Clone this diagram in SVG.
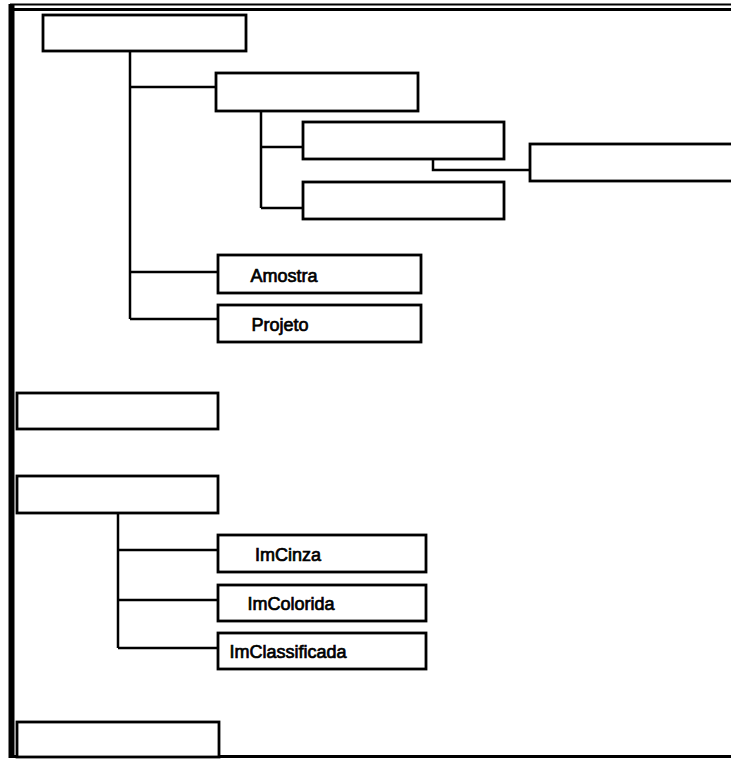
<svg xmlns="http://www.w3.org/2000/svg" width="731" height="759" viewBox="0 0 731 759">
  <style>
    .box { fill: #fff; stroke: #000; stroke-width: 2.8; }
    .wire { fill: none; stroke: #000; stroke-width: 2.5; }
    .frame { fill: none; stroke: #000; }
    .lbl { font-family: "Liberation Sans", Arial, sans-serif; font-size: 18px; fill: #000; stroke: #000; stroke-width: 0.7; text-anchor: middle; }
  </style>
  <rect width="731" height="759" fill="#fff"/>

  <!-- outer frame -->
  <g id="frame">
    <line class="frame" x1="10" y1="4.5" x2="731" y2="4.5" stroke-width="2.2"/>
    <line class="frame" x1="10" y1="9.5" x2="731" y2="9.5" stroke-width="2.8"/>
    <line class="frame" x1="11.5" y1="4" x2="11.5" y2="758" stroke-width="6"/>
    <line class="frame" x1="9" y1="756.5" x2="731" y2="756.5" stroke-width="2.8"/>
  </g>

  <!-- connectors -->
  <g id="connectors">
    <path class="wire" d="M130,51 V319 M130,87 H217 M130,272 H218 M130,319 H218"/>
    <path class="wire" d="M261,111 V208 M261,147 H303 M261,208 H303"/>
    <path class="wire" d="M433,159 V170 H530"/>
    <path class="wire" d="M118,513 V648 M118,550 H218 M118,600 H218 M118,648 H218"/>
  </g>

  <!-- nodes -->
  <g id="n-root"><rect class="box" x="43" y="15" width="203" height="36"/></g>
  <g id="n-a"><rect class="box" x="216" y="73" width="202" height="38"/></g>
  <g id="n-a1"><rect class="box" x="303" y="122" width="201" height="37"/></g>
  <g id="n-a1x"><rect class="box" x="530" y="144" width="205" height="37"/></g>
  <g id="n-a2"><rect class="box" x="303" y="182" width="201" height="37"/></g>
  <g id="n-amostra"><rect class="box" x="218" y="255" width="203" height="38"/><text class="lbl" x="284" y="282">Amostra</text></g>
  <g id="n-projeto"><rect class="box" x="218" y="305" width="203" height="37"/><text class="lbl" x="280" y="331">Projeto</text></g>
  <g id="n-cinza"><rect class="box" x="218" y="535" width="208" height="37"/><text class="lbl" x="288" y="561">ImCinza</text></g>
  <g id="n-colorida"><rect class="box" x="218" y="585" width="208" height="36"/><text class="lbl" x="291" y="610">ImColorida</text></g>
  <g id="n-classif"><rect class="box" x="218" y="633" width="208" height="36"/><text class="lbl" x="288" y="658">ImClassificada</text></g>
  <g id="n-b"><rect class="box" x="17" y="393" width="201" height="36"/></g>
  <g id="n-c"><rect class="box" x="17" y="476" width="201" height="37"/></g>
  <g id="n-d"><rect class="box" x="17" y="722" width="202" height="35"/></g>
</svg>
